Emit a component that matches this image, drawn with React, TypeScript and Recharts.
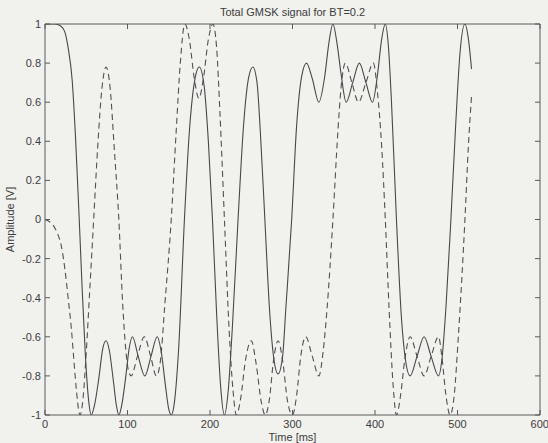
import React from 'react';
import { LineChart, Line, XAxis, YAxis } from 'recharts';

// Time axis [ms] and amplitude [V]
const solidTimes = [
  0, 12, 19, 24, 28, 33, 37, 41.5, 45, 49, 53, 56,
  60, 65, 70, 74, 78, 83, 86.5, 89.5,
  93, 98, 102, 106, 113, 121, 128.5, 136, 141, 146, 150, 153,
  157, 162, 169, 175, 181, 187, 193, 198, 203, 208, 213, 217.5,
  222, 227, 234, 241, 247, 252, 257, 261, 266.5, 272, 277, 282.5,
  288, 292, 299, 305, 311, 317, 324, 332, 339, 344, 349,
  354, 359, 365, 373, 381, 389, 397, 403, 408, 412.5,
  416, 420, 426, 432, 437, 442.5, 451, 459.5, 468, 477,
  481, 486, 492, 498, 503, 509, 513, 517,
];
const solidValues = [
  1, 1, 0.99, 0.96, 0.88, 0.71, 0.42, 0, -0.35, -0.7, -0.93, -1,
  -0.95, -0.82, -0.66, -0.62, -0.67, -0.83, -0.95, -1,
  -0.95, -0.8, -0.66, -0.6, -0.7, -0.8, -0.7, -0.6, -0.68, -0.85, -0.97, -1,
  -0.93, -0.66, 0, 0.45, 0.7, 0.78, 0.68, 0.4, 0, -0.48, -0.86, -1,
  -0.88, -0.56, 0, 0.5, 0.73, 0.78, 0.7, 0.45, 0, -0.45, -0.7, -0.79,
  -0.7, -0.45, 0, 0.48, 0.73, 0.8, 0.72, 0.6, 0.73, 0.9, 1,
  0.9, 0.74, 0.6, 0.7, 0.8, 0.7, 0.6, 0.74, 0.92, 1,
  0.9, 0.6, 0, -0.5, -0.72, -0.8, -0.7, -0.6, -0.7, -0.8,
  -0.72, -0.45, 0, 0.5, 0.85, 1, 0.93, 0.77,
];

const dashedTimes = [
  0, 5, 10, 15, 20, 24, 28, 32, 35, 38, 41, 42.5,
  46, 50, 54, 59, 64, 69, 74, 79, 84, 89.5,
  94, 98, 101, 104.5, 112, 120.5, 128, 135,
  140, 145, 153, 159, 164, 169.5, 175, 181, 186.5, 192, 198, 203.5,
  208, 212, 217.5, 223, 228, 232, 237, 243, 250, 256, 262, 267,
  272, 277, 282.5, 288, 294, 300, 305, 310, 316, 324, 332,
  337, 342, 349, 355, 359, 364, 372, 380, 389, 398,
  403, 408, 412.5, 417, 422, 426, 431, 436, 442.5, 451, 459.5, 468, 477,
  481, 486, 491, 496, 501, 509, 513, 517,
];
const dashedValues = [
  0, -0.01, -0.03, -0.07, -0.14, -0.25, -0.4, -0.56, -0.72, -0.87, -0.98, -1,
  -0.92, -0.68, -0.38, 0, 0.38, 0.67, 0.78, 0.67, 0.36, 0,
  -0.42, -0.67, -0.77, -0.8, -0.7, -0.6, -0.7, -0.8,
  -0.72, -0.45, 0, 0.45, 0.8, 1, 0.92, 0.72, 0.62, 0.72, 0.92, 1,
  0.88, 0.55, 0, -0.55, -0.88, -1, -0.92, -0.72, -0.62, -0.74, -0.93, -1,
  -0.92, -0.72, -0.62, -0.72, -0.93, -1, -0.9, -0.7, -0.6, -0.7, -0.8,
  -0.68, -0.45, 0, 0.45, 0.68, 0.8, 0.7, 0.6, 0.7, 0.8,
  0.65, 0.38, 0, -0.45, -0.85, -1, -0.9, -0.72, -0.6, -0.7, -0.8, -0.7, -0.6,
  -0.7, -0.9, -1, -0.9, -0.6, 0, 0.36, 0.63,
];

const timeTicks = [0, 100, 200, 300, 400, 500, 600];
const ampTicks = [-1, -0.8, -0.6, -0.4, -0.2, 0, 0.2, 0.4, 0.6, 0.8, 1];

const solidData = solidTimes.map((t, i) => ({ t, v: solidValues[i] }));
const dashedData = dashedTimes.map((t, i) => ({ t, v: dashedValues[i] }));

const ink = '#3c3c3c';
const frame = '#5a5a5a';
const font = '"Liberation Sans", Arial, sans-serif';
const tickStyle = { fill: ink, fontSize: 11, fontFamily: font };
const noLabel = () => '';

export default function App() {
  return (
    <div style={{ width: 548, height: 443, background: '#f1f1ee', position: 'absolute', left: 0, top: 0 }}>
      <style>{'body{margin:0;background:#f1f1ee;}'}</style>
      <LineChart
        width={548}
        height={443}
        margin={{ top: 23, right: 7, bottom: 0, left: 0 }}
      >
        <XAxis
          xAxisId="bottom"
          dataKey="t"
          type="number"
          domain={[0, 600]}
          ticks={timeTicks}
          allowDataOverflow
          height={28}
          tickSize={-5}
          tickMargin={10}
          tick={tickStyle}
          axisLine={{ stroke: frame }}
          tickLine={{ stroke: frame }}
          label={{
            value: 'Time [ms]',
            position: 'insideBottom',
            offset: 2,
            fill: ink,
            fontSize: 11,
            fontFamily: font,
          }}
        />
        <XAxis
          xAxisId="top"
          orientation="top"
          dataKey="t"
          type="number"
          domain={[0, 600]}
          ticks={timeTicks}
          allowDataOverflow
          height={1}
          tickSize={-5}
          tickFormatter={noLabel}
          axisLine={{ stroke: frame }}
          tickLine={{ stroke: frame }}
          label={{
            value: 'Total GMSK signal for BT=0.2',
            position: 'top',
            offset: 7,
            fill: ink,
            fontSize: 11,
            fontFamily: font,
          }}
        />
        <YAxis
          yAxisId="left"
          type="number"
          domain={[-1, 1]}
          ticks={ampTicks}
          allowDataOverflow
          width={45}
          tickSize={-5}
          tickMargin={9}
          tick={tickStyle}
          tickFormatter={(v: number) => String(v)}
          axisLine={{ stroke: frame }}
          tickLine={{ stroke: frame }}
          label={{
            value: 'Amplitude [V]',
            angle: -90,
            position: 'insideLeft',
            offset: 10,
            fill: ink,
            fontSize: 11,
            fontFamily: font,
            style: { textAnchor: 'middle' },
          }}
        />
        <YAxis
          yAxisId="right"
          orientation="right"
          type="number"
          domain={[-1, 1]}
          ticks={ampTicks}
          allowDataOverflow
          width={1}
          tickSize={-5}
          tickFormatter={noLabel}
          axisLine={{ stroke: frame }}
          tickLine={{ stroke: frame }}
        />
        {/* invisible series so the top and right frame axes are drawn */}
        <Line
          xAxisId="top"
          yAxisId="right"
          data={solidData}
          dataKey="v"
          stroke="none"
          dot={false}
          activeDot={false}
          isAnimationActive={false}
        />
        <Line
          xAxisId="bottom"
          yAxisId="left"
          data={dashedData}
          dataKey="v"
          type="monotone"
          stroke="#505050"
          strokeWidth={1.1}
          strokeDasharray="6 4"
          dot={false}
          isAnimationActive={false}
        />
        <Line
          xAxisId="bottom"
          yAxisId="left"
          data={solidData}
          dataKey="v"
          type="monotone"
          stroke="#484848"
          strokeWidth={1.1}
          dot={false}
          isAnimationActive={false}
        />
      </LineChart>
    </div>
  );
}
